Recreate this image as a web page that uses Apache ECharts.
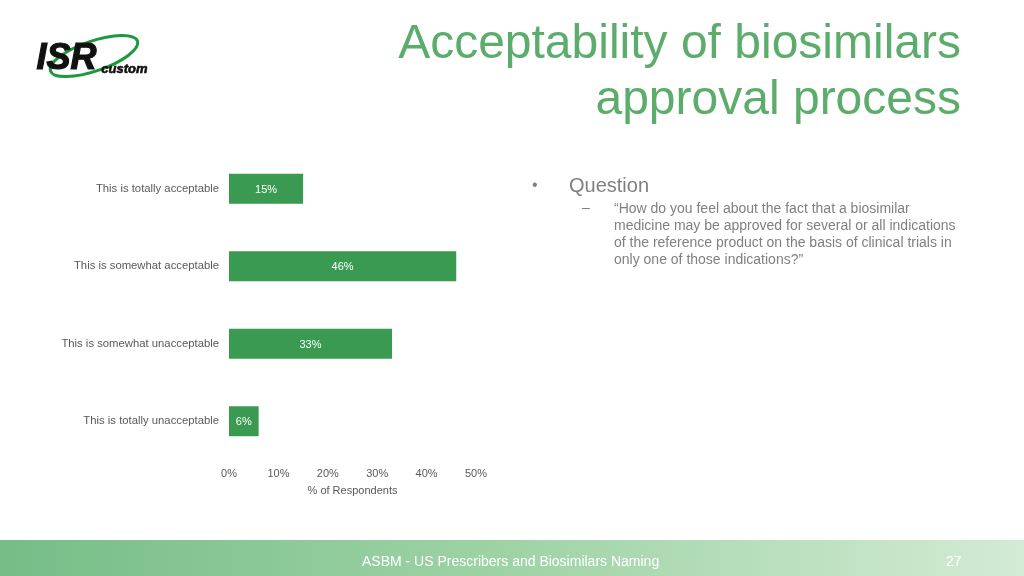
<!DOCTYPE html>
<html>
<head>
<meta charset="utf-8">
<script src="https://cdn.jsdelivr.net/npm/echarts@6/dist/echarts.min.js"></script>
<style>
  html, body { margin: 0; padding: 0; background: #fff; }
  #main { width: 1024px; height: 576px; }
</style>
</head>
<body>
<div id="main"></div>
<script>
// 数据
var categories = ['This is totally acceptable', 'This is somewhat acceptable', 'This is somewhat unacceptable', 'This is totally unacceptable'];
var values = [15, 46, 33, 6];
var tickLabels = ['0%', '10%', '20%', '30%', '40%', '50%'];

var chart = echarts.init(document.getElementById('main'));

var option = {
  backgroundColor: '#ffffff',
  textStyle: { fontFamily: 'Liberation Sans, Arial, sans-serif' },
  grid: { left: 229, right: 548, top: 150, bottom: 116, containLabel: false },
  xAxis: {
    type: 'value',
    min: 0,
    max: 50,
    interval: 10,
    name: '% of Respondents',
    nameLocation: 'middle',
    nameGap: 25,
    nameTextStyle: { color: '#595959', fontSize: 11 },
    axisLine: { show: false },
    axisTick: { show: false },
    splitLine: { show: false },
    axisLabel: {
      color: '#595959',
      fontSize: 11,
      margin: 8,
      formatter: function (v) { return tickLabels[v / 10]; }
    }
  },
  yAxis: {
    type: 'category',
    inverse: true,
    data: categories,
    axisLine: { show: false },
    axisTick: { show: false },
    axisLabel: { color: '#595959', fontSize: 11.3, margin: 10 }
  },
  series: [{
    type: 'bar',
    data: values,
    barWidth: 30,
    itemStyle: { color: '#3a9a52' },
    label: {
      show: true,
      position: 'inside',
      color: '#ffffff',
      fontSize: 11,
      offset: [0, 1],
      formatter: '{c}%'
    }
  }],
  graphic: [
    // 页脚
    {
      type: 'rect', left: 0, top: 540, z: -1,
      shape: { width: 1024, height: 36 },
      style: {
        fill: new echarts.graphic.LinearGradient(0, 0, 1, 0, [
          { offset: 0, color: '#76bd88' },
          { offset: 0.5, color: '#9fd3a6' },
          { offset: 1, color: '#d3ebd4' }
        ])
      }
    },
    {
      type: 'text', left: 362, top: 555,
      style: { text: 'ASBM - US Prescribers and Biosimilars Naming', fill: '#ffffff', fontSize: 14, fontFamily: 'Liberation Sans, Arial' }
    },
    {
      type: 'text', left: 946, top: 555,
      style: { text: '27', fill: '#ffffff', fontSize: 14, fontFamily: 'Liberation Sans, Arial' }
    },
    // 标题
    {
      type: 'text', right: 63, top: 21,
      style: { text: 'Acceptability of biosimilars', fill: '#5cac6c', fontSize: 48, fontFamily: 'Liberation Sans, Arial', align: 'right' }
    },
    {
      type: 'text', right: 63, top: 77,
      style: { text: 'approval process', fill: '#5cac6c', fontSize: 48, fontFamily: 'Liberation Sans, Arial', align: 'right' }
    },
    // 问题
    {
      type: 'text', left: 532, top: 178,
      style: { text: '•', fill: '#808080', fontSize: 16, fontFamily: 'Liberation Sans, Arial' }
    },
    {
      type: 'text', left: 569, top: 176,
      style: { text: 'Question', fill: '#808080', fontSize: 20, fontFamily: 'Liberation Sans, Arial' }
    },
    {
      type: 'text', left: 582, top: 201,
      style: { text: '–', fill: '#808080', fontSize: 14, fontFamily: 'Liberation Sans, Arial' }
    },
    {
      type: 'text', left: 614, top: 201,
      style: {
        text: '\u201cHow do you feel about the fact that a biosimilar\nmedicine may be approved for several or all indications\nof the reference product on the basis of clinical trials in\nonly one of those indications?\u201d',
        fill: '#808080', fontSize: 14, lineHeight: 17, fontFamily: 'Liberation Sans, Arial'
      }
    },
    // logo
    {
      type: 'ellipse', originX: 94, originY: 56, rotation: 0.33,
      shape: { cx: 94, cy: 56, rx: 46, ry: 15 },
      style: { fill: 'none', stroke: '#1a9a3c', lineWidth: 3 }
    },
    {
      type: 'text', left: 36, top: 40,
      style: { text: 'ISR', fill: '#111111', stroke: '#111111', lineWidth: 1.2, fontSize: 36, fontWeight: 'bold', fontStyle: 'italic', fontFamily: 'Liberation Sans, Arial' }
    },
    {
      type: 'text', left: 101, top: 63,
      style: { text: 'custom', fill: '#111111', stroke: '#111111', lineWidth: 0.6, fontSize: 13, fontWeight: 'bold', fontStyle: 'italic', fontFamily: 'Liberation Sans, Arial' }
    }
  ]
};

chart.setOption(option);
</script>
</body>
</html>
